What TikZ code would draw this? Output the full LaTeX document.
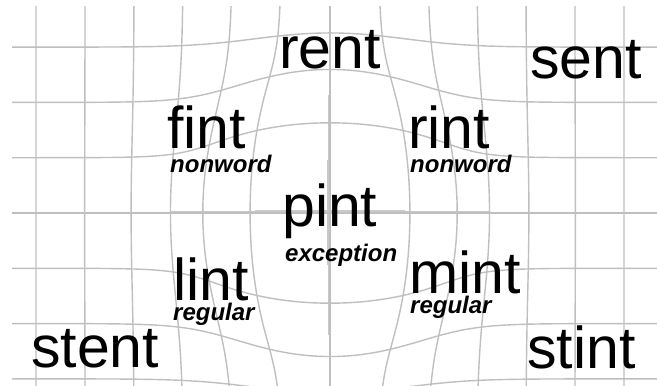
\documentclass[tikz,border=0pt]{standalone}
\usepackage{fontspec}
\setmainfont{Liberation Sans}
\begin{document}
\begin{tikzpicture}[x=1pt,y=-1pt,
  declare function={sc(\u,\v)=1+0.81*exp(-((\u)*(\u)+(\v)*(\v))/4);},
  gridline/.style={draw=gray!50, line width=1.4pt},
  axisglow/.style={draw=gray!42, line cap=butt},
  word/.style={font=\fontsize{59}{59}\selectfont, inner sep=0pt, anchor=base west},
  tag/.style={font=\fontsize{24}{24}\selectfont\bfseries\itshape, inner sep=0pt, anchor=base west}]
\useasboundingbox (0,0) rectangle (657,386);
\begin{scope}
  \clip (12,6) rectangle (657,386);
  % thicker, magnified centre cross
  \foreach \w/\a/\b in {2.2/170/490, 3/215/445, 3.8/255/405}
    \draw[axisglow, line width=\w pt] (\a,212) -- (\b,212);
  \foreach \w/\a/\b in {2.2/95/335, 3/130/300, 3.8/160/265}
    \draw[axisglow, line width=\w pt] (329,\a) -- (329,\b);
  % warped horizontal lines
  \foreach \j in {-4,...,3}
    \draw[gridline] plot[domain=-7.5:7.5, samples=151]
      ({330+49*(\x)*sc(\x,\j)},{213+55.3*(\j)*sc(\x,\j)});
  % warped vertical lines
  \foreach \i in {-7,...,7}
    \draw[gridline] plot[domain=-4.5:3.8, samples=121]
      ({330+49*(\i)*sc(\i,\x)},{213+55.3*(\x)*sc(\i,\x)});
\end{scope}
% words
\node[word] (rent)  at (279,68)  {rent};
\node[word] (sent)  at (530,78)  {sent};
\node[word] (fint)  at (167,148) {fint};
\node[word] (rint)  at (408,148) {rint};
\node[word] (pint)  at (282,226) {pint};
\node[word] (lint)  at (173,300) {lint};
\node[word] (mint)  at (409,293) {mint};
\node[word] (stent) at (31,367)  {stent};
\node[word] (stint) at (527,368) {stint};
% tags
\node[tag] (fintT) at (170,172) {nonword};
\node[tag] (rintT) at (410,172) {nonword};
\node[tag] (pintT) at (285,261) {exception};
\node[tag] (lintT) at (173,320) {regular};
\node[tag] (mintT) at (410,313) {regular};
\end{tikzpicture}
\end{document}
